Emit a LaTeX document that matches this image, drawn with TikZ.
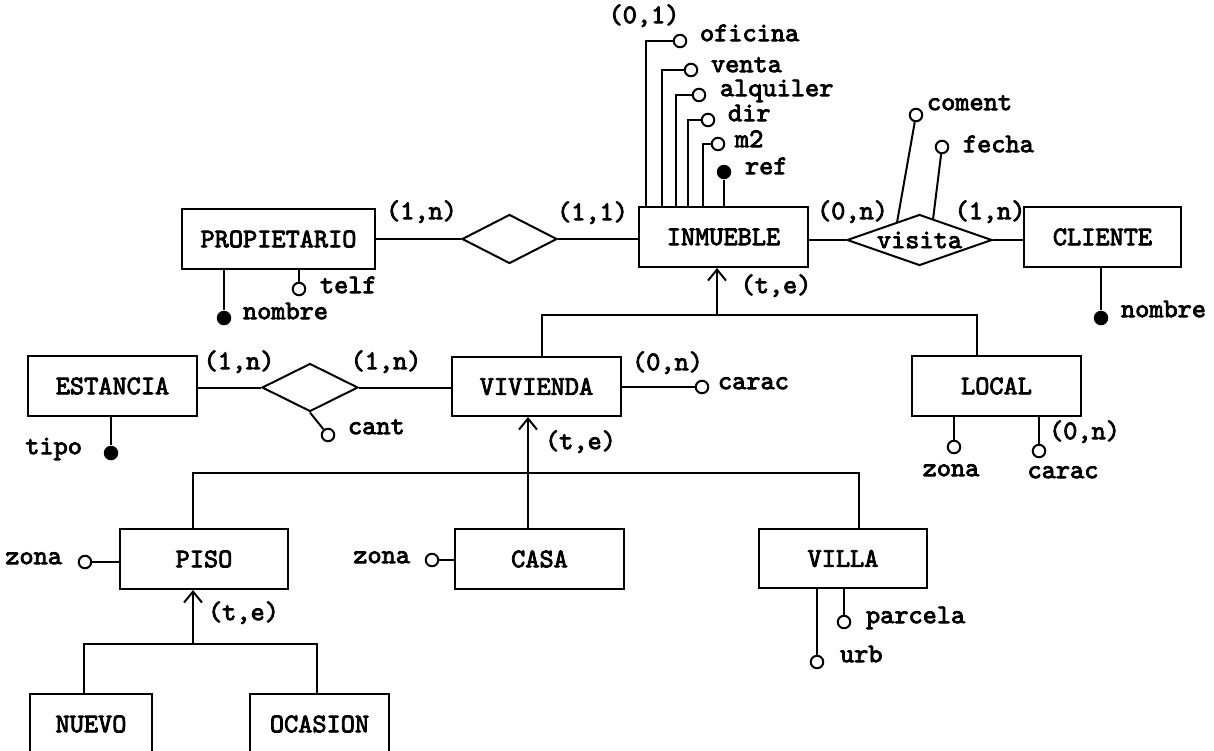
\documentclass[tikz,border=0pt]{standalone}
\usepackage{fontspec}
\newfontfamily\ermono{lmmono10-regular.otf}[FakeBold=3]
\usetikzlibrary{shapes.geometric,arrows.meta}
\begin{document}
\begin{tikzpicture}[x=1pt,y=-1pt, line width=2pt,
 every node/.style={font=\fontsize{27}{31}\ermono\bfseries},
 ent/.style={draw, rectangle, inner sep=0pt, minimum height=60pt},
 rel/.style={draw, diamond, inner sep=0pt},
 att/.style={draw, circle, fill=white, inner sep=0pt, minimum size=12.5pt, line width=2pt},
 key/.style={circle, fill=black, inner sep=0pt, minimum size=14.5pt},
 lbl/.style={inner sep=0pt, anchor=mid west},
 lble/.style={inner sep=0pt, anchor=mid east},
 card/.style={inner sep=0pt, anchor=mid},
 isa/.style={-{Straight Barb[length=11pt,width=18pt]}}]
\useasboundingbox (0,0) rectangle (1214,750);

% entities and relationships
\node[ent, minimum width=193pt] (prop) at (278.5,239) {PROPIETARIO};
\node[rel, minimum width=95pt, minimum height=49pt] (r1) at (509.5,239) {};
\node[ent, minimum width=169pt] (inm) at (723.5,237) {INMUEBLE};
\node[rel, aspect=2.84, minimum width=145pt, minimum height=51pt] (vis) at (919.5,240) {visita};
\node[ent, minimum width=157pt] (cli) at (1102.5,237) {CLIENTE};
\node[ent, minimum width=169pt, minimum height=59pt] (viv) at (536.5,386.5) {VIVIENDA};
\node[ent, minimum width=169pt] (loc) at (996.5,386) {LOCAL};
\node[ent, minimum width=169pt] (est) at (112.5,386) {ESTANCIA};
\node[rel, minimum width=96pt, minimum height=48pt] (r2) at (310,387.5) {};
\node[ent, minimum width=168pt] (piso) at (204,559) {PISO};
\node[ent, minimum width=169pt] (casa) at (539.5,559) {CASA};
\node[ent, minimum width=168pt, minimum height=59pt] (villa) at (843,558.5) {VILLA};
\node[ent, minimum width=122pt] (nuevo) at (91,724) {NUEVO};
\node[ent, minimum width=139pt] (ocas) at (319.5,724) {OCASION};

% relationship connectors
\draw (prop.east) -- (r1.west);
\draw (r1.east) -- (r1.east -| inm.west);
\draw (vis.west -| inm.east) -- (vis.west);
\draw (vis.east) -- (vis.east -| cli.west);
\draw (r2.west -| est.east) -- (r2.west);
\draw (r2.east) -- (r2.east -| viv.west);

\node[card] at (421.5,217) {(1,n)};
\node[card] at (592.5,218) {(1,1)};
\node[card] at (852.5,217) {(0,n)};
\node[card] at (990,217) {(1,n)};
\node[card] at (239,367) {(1,n)};
\node[card] at (386,367) {(1,n)};

% INMUEBLE attributes
\coordinate (bofi) at (646,41);  \node[att] (aofi) at (680,41) {};
\coordinate (bven) at (662,70);  \node[att] (aven) at (691,70) {};
\coordinate (balq) at (676,95);  \node[att] (aalq) at (699,95) {};
\coordinate (bdir) at (688,120); \node[att] (adir) at (708,120) {};
\coordinate (bm2) at (703,144);  \node[att] (am2) at (718,144) {};
\node[key] (kref) at (724,172) {};
\draw (bofi |- inm.north) -- (bofi) -- (aofi);
\draw (bven |- inm.north) -- (bven) -- (aven);
\draw (balq |- inm.north) -- (balq) -- (aalq);
\draw (bdir |- inm.north) -- (bdir) -- (adir);
\draw (bm2 |- inm.north) -- (bm2) -- (am2);
\draw (kref |- inm.north) -- (kref);
\node[card] at (644,21) {(0,1)};
\node[lbl] at (699,39) {oficina};
\node[lbl] at (710,70) {venta};
\node[lbl] at (719,94) {alquiler};
\node[lbl] at (727,119) {dir};
\node[lbl] at (734,145) {m2};
\node[lbl] at (744,172) {ref};

% visita attributes
\coordinate (vc1) at (897,222.5); \node[att] (acom) at (916,115) {};
\coordinate (vc2) at (933,219.5); \node[att] (afec) at (942,147) {};
\draw (vc1) -- (acom);
\draw (vc2) -- (afec);
\node[lbl] at (926,108) {coment};
\node[lbl] at (962,150) {fecha};

% CLIENTE
\node[key] (kcli) at (1101,318) {};
\draw (kcli |- cli.south) -- (kcli);
\node[lbl] at (1120,315) {nombre};

% PROPIETARIO
\node[key] (kprop) at (224,318) {};
\draw (kprop |- prop.south) -- (kprop);
\node[att] (atel) at (299,289) {};
\draw (atel |- prop.south) -- (atel);
\node[lbl] at (242,317) {nombre};
\node[lbl] at (319,291) {telf};

% ISA INMUEBLE
\coordinate (tI) at (717,315);
\coordinate (vI) at (542,315);
\coordinate (lI) at (977,315);
\draw[isa] (tI) -- (tI |- inm.south);
\draw (vI |- viv.north) -- (vI) -- (lI) -- (lI |- loc.north);
\node[card] at (776,291) {(t,e)};

% VIVIENDA
\node[att] (avc) at (702,387) {};
\draw (avc -| viv.east) -- (avc);
\node[card] at (667.5,368) {(0,n)};
\node[lbl] at (717,387) {carac};

% ESTANCIA relation attr
\node[att] (acant) at (328,435) {};
\draw (r2.south) -- (acant);
\node[lbl] at (347,432) {cant};
\node[key] (ktipo) at (111,453) {};
\draw (ktipo |- est.south) -- (ktipo);
\node[lble] at (83,452) {tipo};

% LOCAL
\node[att] (alz) at (954,447) {};
\node[att] (alc) at (1039,451) {};
\draw (alz |- loc.south) -- (alz);
\draw (alc |- loc.south) -- (alc);
\node[card] at (951,474) {zona};
\node[card] at (1063,476) {carac};
\node[card] at (1084.5,437) {(0,n)};

% ISA VIVIENDA
\coordinate (tV) at (528,473);
\coordinate (pI) at (193,473);
\coordinate (vlI) at (859,473);
\draw[isa] (tV) -- (tV |- viv.south);
\draw (pI |- piso.north) -- (pI) -- (vlI) -- (vlI |- villa.north);
\draw (tV) -- (tV |- casa.north);
\node[card] at (580.5,447) {(t,e)};

% PISO / CASA / VILLA attributes
\node[att] (apz) at (85,562) {};
\draw (apz) -- (apz -| piso.west);
\node[lble] at (63,562) {zona};
\node[att] (acz) at (432,560) {};
\draw (acz) -- (acz -| casa.west);
\node[lble] at (411,561) {zona};
\node[att] (apar) at (844,622) {};
\node[att] (aurb) at (817,662) {};
\draw (apar |- villa.south) -- (apar);
\draw (aurb |- villa.south) -- (aurb);
\node[lbl] at (865,621) {parcela};
\node[lbl] at (839,660) {urb};

% ISA PISO
\coordinate (tP) at (193,644);
\coordinate (nI) at (84,644);
\coordinate (oI) at (317,644);
\draw[isa] (tP) -- (tP |- piso.south);
\draw (nI |- nuevo.north) -- (nI) -- (oI) -- (oI |- ocas.north);
\node[card] at (243.5,618) {(t,e)};
\end{tikzpicture}
\end{document}
